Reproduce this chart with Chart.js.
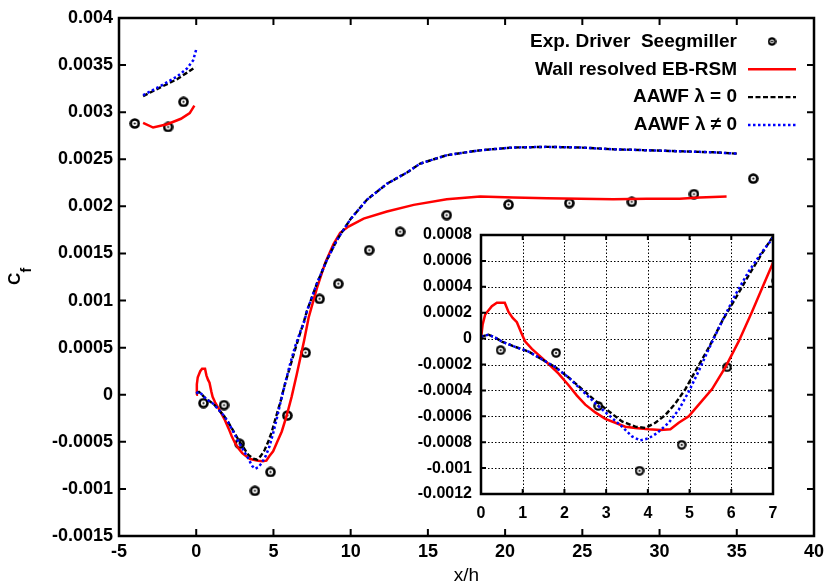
<!DOCTYPE html>
<html>
<head>
<meta charset="utf-8">
<script src="https://cdn.jsdelivr.net/npm/chart.js@4.4.1/dist/chart.umd.min.js"></script>
<style>
  html, body { margin: 0; padding: 0; background: #fff; }
  #wrap { position: relative; width: 825px; height: 584px; }
  #main { position: absolute; left: 0; top: 0; }
  #inset { position: absolute; left: 415px; top: 225px; }
</style>
</head>
<body>
<div id="wrap">
  <canvas id="main" width="825" height="584"></canvas>
  <canvas id="inset" width="370" height="305"></canvas>
</div>
<script>
// --- datos ---
const seriesLabels = ['Exp. Driver  Seegmiller', 'Wall resolved EB-RSM', 'AAWF \u03bb = 0', 'AAWF \u03bb \u2260 0'];

const expX = [-3.98, -1.82, -0.82, 0.47, 1.80, 2.81, 3.80, 4.81, 5.90, 7.08, 7.99, 9.20, 11.2, 13.2, 16.22, 20.22, 24.16, 28.2, 32.23, 36.07];
const expY = [0.00288, 0.002843, 0.00311, -0.000089, -0.00011, -0.00052, -0.00102, -0.00082, -0.000221, 0.000447, 0.001018, 0.001178, 0.001536, 0.00173, 0.001907, 0.002018, 0.002035, 0.002048, 0.00213, 0.002295];

// EB-RSM (rojo)
const rsmUpX = [-3.44, -2.79, -1.88, -0.99, -0.42, -0.12];
const rsmUpY = [0.002887, 0.002837, 0.002872, 0.00293, 0.00299, 0.00307];
const rsmX = [0, 0.04, 0.10, 0.26, 0.38, 0.57, 0.66, 0.76, 0.86, 0.98, 1.06, 1.22, 1.42, 1.62, 1.86, 2.10, 2.30, 2.50, 2.74, 2.98, 3.22, 3.46, 3.70, 4.02, 4.30, 4.54, 4.74, 4.98, 5.22, 5.54, 5.86, 6.18, 6.50, 6.74, 6.98, 7.28, 7.81, 8.35, 8.89, 9.32, 9.86, 10.84, 12.35, 14.08, 16.22, 18.39, 20.54, 22.7, 24.86, 27.0, 29.17, 31.3, 32.6, 34.34];
const rsmY = [0, 0.00011, 0.000186, 0.00025, 0.000277, 0.000277, 0.000206, 0.00016, 0.000127, 0.000033, -0.000023, -0.00008, -0.000137, -0.000196, -0.00027, -0.00036, -0.00044, -0.00051, -0.00057, -0.00062, -0.00065, -0.00068, -0.00069, -0.0007, -0.000705, -0.0007, -0.00065, -0.0006, -0.00051, -0.00039, -0.00022, -0.00002, 0.00021, 0.00039, 0.00057, 0.00082, 0.00113, 0.0014, 0.0016, 0.00172, 0.001785, 0.00187, 0.001945, 0.002016, 0.002076, 0.002104, 0.002094, 0.002086, 0.00208, 0.002076, 0.00208, 0.00208, 0.002094, 0.002104];

// AAWF lambda = 0 (negro)
const aawf0UpX = [-3.44, -2.32, -1.24, -0.59, -0.05];
const aawf0UpY = [0.00317, 0.003263, 0.00335, 0.00342, 0.00348];
const aawf0X = [0, 0.18, 0.34, 0.50, 0.82, 1.14, 1.46, 1.78, 2.10, 2.42, 2.74, 3.06, 3.38, 3.70, 3.94, 4.18, 4.42, 4.66, 4.90, 5.14, 5.46, 5.78, 6.10, 6.42, 6.74, 6.98, 7.17, 7.81, 8.46, 9.10, 9.97, 11.05, 12.35, 13.65, 14.5, 16.22, 18.39, 20.54, 22.7, 24.86, 27.0, 29.17, 31.3, 33.5, 35.0];
const aawf0Y = [0.000015, 0.00003, 0.000008, -0.000023, -0.000064, -0.0001, -0.00016, -0.00022, -0.0003, -0.00039, -0.00048, -0.00056, -0.00064, -0.00068, -0.00069, -0.00065, -0.00059, -0.0005, -0.00039, -0.00025, -0.00007, 0.000135, 0.00031, 0.00049, 0.00066, 0.00078, 0.00089, 0.00118, 0.00143, 0.00164, 0.00186, 0.00207, 0.00224, 0.00236, 0.002454, 0.002543, 0.002596, 0.002625, 0.002632, 0.002625, 0.002606, 0.002596, 0.002585, 0.002574, 0.00256];

// AAWF lambda != 0 (azul)
const aawfUpX = [-3.44, -2.32, -1.24, -0.59, -0.2, -0.01];
const aawfUpY = [0.00318, 0.003277, 0.003378, 0.003465, 0.00355, 0.00366];
const aawfX = [0, 0.18, 0.34, 0.50, 0.82, 1.14, 1.46, 1.78, 2.10, 2.42, 2.74, 3.06, 3.38, 3.62, 3.82, 4.02, 4.22, 4.50, 4.74, 4.98, 5.22, 5.46, 5.78, 6.10, 6.42, 6.74, 6.98, 7.17, 7.81, 8.46, 9.10, 9.97, 11.05, 12.35, 13.65, 14.5, 16.22, 18.39, 20.54, 22.7, 24.86, 27.0, 29.17, 31.3, 33.5, 35.0];
const aawfY = [0.000015, 0.00003, 0.000008, -0.000023, -0.000064, -0.0001, -0.00016, -0.00022, -0.0003, -0.0004, -0.0005, -0.00059, -0.00068, -0.000756, -0.000786, -0.00077, -0.00073, -0.00065, -0.00055, -0.00041, -0.00025, -0.00008, 0.000135, 0.00034, 0.00052, 0.00067, 0.00077, 0.00089, 0.00118, 0.00143, 0.00164, 0.00186, 0.00207, 0.00224, 0.00236, 0.002454, 0.002543, 0.002596, 0.002625, 0.002632, 0.002625, 0.002606, 0.002596, 0.002585, 0.002574, 0.00256];

// ticks
const mainXTicks = [-5, 0, 5, 10, 15, 20, 25, 30, 35, 40];
const mainYTicks = [-0.0015, -0.001, -0.0005, 0, 0.0005, 0.001, 0.0015, 0.002, 0.0025, 0.003, 0.0035, 0.004];
const insetXTicks = [0, 1, 2, 3, 4, 5, 6, 7];
const insetYTicks = [-0.0012, -0.001, -0.0008, -0.0006, -0.0004, -0.0002, 0, 0.0002, 0.0004, 0.0006, 0.0008];

const FONT = '"Liberation Sans", Arial, Helvetica, sans-serif';
Chart.defaults.font.family = FONT;
Chart.defaults.font.weight = 'bold';
Chart.defaults.color = '#000';

function pts(xs, ys) {
    return xs.map((x, i) => ({ x: x, y: ys[i] }));
}
function conGap(upX, upY, xs, ys) {
    return pts(upX, upY).concat([{ x: 0, y: null }], pts(xs, ys));
}

// marcador circulo con punto
function marcador(size, ring) {
    const c = document.createElement('canvas');
    c.width = size; c.height = size;
    const g = c.getContext('2d');
    const r = size / 2;
    g.fillStyle = '#000';
    g.beginPath(); g.arc(r, r, r - 0.2, 0, 2 * Math.PI); g.fill();
    g.fillStyle = '#fff';
    g.beginPath(); g.arc(r, r, r - 0.2 - ring, 0, 2 * Math.PI); g.fill();
    g.fillStyle = '#000';
    g.beginPath(); g.arc(r, r, 1.1, 0, 2 * Math.PI); g.fill();
    return c;
}

function datasets(marker) {
    return [
        { label: seriesLabels[0], data: pts(expX, expY), showLine: false, pointStyle: marker, pointRadius: 5, order: 3 },
        { label: seriesLabels[1], data: conGap(rsmUpX, rsmUpY, rsmX, rsmY), showLine: true, borderColor: 'rgb(255,0,0)', borderWidth: 2.5, pointRadius: 0, order: 2 },
        { label: seriesLabels[2], data: conGap(aawf0UpX, aawf0UpY, aawf0X, aawf0Y), showLine: true, borderColor: '#000', borderWidth: 2.4, borderDash: [5, 2.5], pointRadius: 0, order: 1 },
        { label: seriesLabels[3], data: conGap(aawfUpX, aawfUpY, aawfX, aawfY), showLine: true, borderColor: 'rgb(0,0,255)', borderWidth: 2.5, borderDash: [2.5, 2.5], pointRadius: 0, order: 0 }
    ];
}

function fmt(v) { return String(+(+v).toFixed(5)); }

// marco estilo gnuplot: ticks hacia dentro en los 4 lados, rejilla opcional
const marco = {
    id: 'marco',
    beforeDatasetsDraw(chart, args, opts) {
        const { ctx, chartArea: a, scales: { x, y } } = chart;
        ctx.save();
        if (opts.fondo) {
            ctx.fillStyle = opts.fondo;
            ctx.fillRect(a.left, a.top, a.width, a.height);
        }
        if (opts.rejilla) {
            ctx.strokeStyle = '#000';
            ctx.lineWidth = 1;
            ctx.setLineDash([1.5, 2]);
            ctx.beginPath();
            x.ticks.forEach(t => {
                const px = Math.round(x.getPixelForValue(t.value)) + 0.5;
                ctx.moveTo(px, a.top); ctx.lineTo(px, a.bottom);
            });
            y.ticks.forEach(t => {
                const py = Math.round(y.getPixelForValue(t.value)) + 0.5;
                ctx.moveTo(a.left, py); ctx.lineTo(a.right, py);
            });
            ctx.stroke();
        }
        ctx.restore();
    },
    afterDatasetsDraw(chart, args, opts) {
        const { ctx, chartArea: a, scales: { x, y } } = chart;
        const len = opts.largo;
        ctx.save();
        ctx.strokeStyle = '#000';
        ctx.lineWidth = opts.grosorTick;
        ctx.beginPath();
        x.ticks.forEach(t => {
            const px = x.getPixelForValue(t.value);
            ctx.moveTo(px, a.bottom); ctx.lineTo(px, a.bottom - len);
            ctx.moveTo(px, a.top); ctx.lineTo(px, a.top + len);
        });
        y.ticks.forEach(t => {
            const py = y.getPixelForValue(t.value);
            ctx.moveTo(a.left, py); ctx.lineTo(a.left + len, py);
            ctx.moveTo(a.right, py); ctx.lineTo(a.right - len, py);
        });
        ctx.stroke();
        ctx.lineWidth = opts.grosorMarco;
        ctx.strokeRect(a.left, a.top, a.width, a.height);
        ctx.restore();
    }
};

// leyenda a la derecha: texto alineado a la derecha y muestra de linea
const leyenda = {
    id: 'leyenda',
    afterDatasetsDraw(chart, args, opts) {
        const { ctx } = chart;
        ctx.save();
        ctx.font = opts.font;
        ctx.textAlign = 'right';
        ctx.textBaseline = 'middle';
        chart.data.datasets.forEach((ds, i) => {
            const yy = opts.top + i * opts.alto;
            ctx.fillStyle = '#000';
            ctx.fillText(ds.label, opts.textoDer, yy);
            if (ds.showLine === false) {
                const m = opts.marcador;
                ctx.drawImage(m, (opts.x0 + opts.x1) / 2 - m.width / 2, yy - m.height / 2);
            } else {
                ctx.strokeStyle = ds.borderColor;
                ctx.lineWidth = ds.borderWidth;
                ctx.setLineDash(ds.borderDash || []);
                ctx.beginPath();
                ctx.moveTo(opts.x0, yy); ctx.lineTo(opts.x1, yy);
                ctx.stroke();
            }
        });
        ctx.restore();
    }
};

// titulo del eje y: C con subindice f
const tituloY = {
    id: 'tituloY',
    afterDraw(chart) {
        const { ctx } = chart;
        ctx.save();
        ctx.translate(20, 285);
        ctx.rotate(-Math.PI / 2);
        ctx.fillStyle = '#000';
        ctx.textAlign = 'left';
        ctx.textBaseline = 'alphabetic';
        ctx.font = 'bold 17px ' + FONT;
        ctx.fillText('C', 0, 0);
        ctx.font = 'bold 14px ' + FONT;
        ctx.fillText('f', 12.5, 11);
        ctx.restore();
    }
};

function escalas(xTicks, yTicks, cfg) {
    const sinPad = s => { s.paddingLeft = 0; s.paddingRight = 0; s.paddingTop = 0; s.paddingBottom = 0; };
    return {
        x: {
            type: 'linear',
            min: xTicks[0], max: xTicks[xTicks.length - 1],
            afterBuildTicks: s => { s.ticks = xTicks.map(v => ({ value: v })); },
            afterFit: s => { s.height = cfg.altoX; sinPad(s); },
            grid: { display: false, drawTicks: false },
            border: { display: false },
            ticks: { font: { size: cfg.fuente }, padding: cfg.padX, maxRotation: 0, autoSkip: false, callback: fmt },
            title: cfg.tituloX ? { display: true, text: cfg.tituloX, font: { size: 19, weight: 'normal' }, padding: { top: 0, bottom: -3 } } : { display: false }
        },
        y: {
            type: 'linear',
            min: yTicks[0], max: yTicks[yTicks.length - 1],
            afterBuildTicks: s => { s.ticks = yTicks.map(v => ({ value: v })); },
            afterFit: s => { s.width = cfg.anchoY; sinPad(s); },
            grid: { display: false, drawTicks: false },
            border: { display: false },
            ticks: { font: { size: cfg.fuente }, padding: cfg.padY, autoSkip: false, callback: fmt }
        }
    };
}

const marcaGrande = marcador(11, 2.6);
const marcaInset = marcador(10, 2.2);
const marcaLeyenda = marcador(9, 2.2);

new Chart(document.getElementById('main'), {
    type: 'scatter',
    data: { datasets: datasets(marcaGrande) },
    options: {
        responsive: false,
        animation: false,
        layout: { padding: { left: 0, top: 18, right: 11, bottom: 0 } },
        scales: escalas(mainXTicks, mainYTicks, { altoX: 48, anchoY: 119, fuente: 18, padX: 5, padY: 6, tituloX: 'x/h' }),
        plugins: {
            legend: { display: false },
            tooltip: { enabled: false },
            marco: { largo: 7, grosorTick: 2, grosorMarco: 2.5 },
            leyenda: { font: 'bold 19px ' + FONT, top: 41.5, alto: 27.8, textoDer: 737, x0: 748, x1: 796, marcador: marcaLeyenda }
        }
    },
    plugins: [marco, leyenda, tituloY]
});

new Chart(document.getElementById('inset'), {
    type: 'scatter',
    data: { datasets: datasets(marcaInset) },
    options: {
        responsive: false,
        animation: false,
        layout: { padding: { left: 0, top: 10, right: 12, bottom: 0 } },
        scales: escalas(insetXTicks, insetYTicks, { altoX: 36, anchoY: 66, fuente: 16, padX: 10, padY: 9 }),
        plugins: {
            legend: { display: false },
            tooltip: { enabled: false },
            marco: { largo: 5, grosorTick: 2, grosorMarco: 2.5, rejilla: true, fondo: '#fff' }
        }
    },
    plugins: [marco]
});
</script>
</body>
</html>
